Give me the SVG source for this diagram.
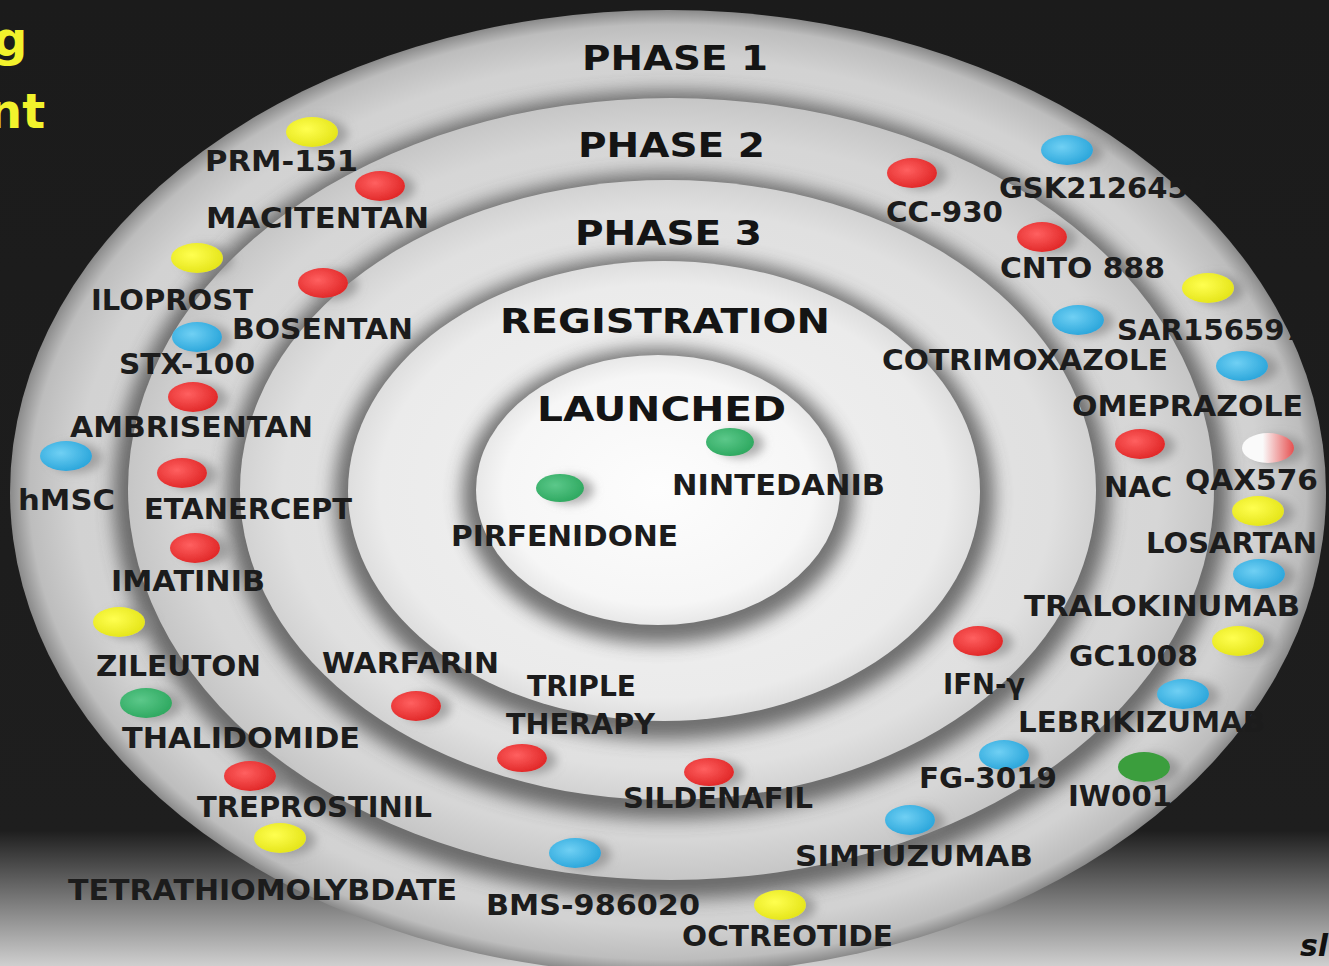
<svg xmlns="http://www.w3.org/2000/svg" width="1329" height="966" viewBox="0 0 1329 966">
<defs>
<linearGradient id="bg" x1="0" y1="0" x2="0" y2="1">
<stop offset="0" stop-color="#1b1b1b"/><stop offset="0.86" stop-color="#1e1e1e"/><stop offset="1" stop-color="#cfcfcf"/>
</linearGradient>
<radialGradient id="g1" cx="0.5" cy="0.5" r="0.5"><stop offset="0" stop-color="#dcdcdc"/><stop offset="0.9" stop-color="#d2d2d2"/><stop offset="0.97" stop-color="#bdbdbd"/><stop offset="1" stop-color="#8a8a8a"/></radialGradient>
<radialGradient id="g2" cx="0.5" cy="0.5" r="0.5"><stop offset="0" stop-color="#e0e0e0"/><stop offset="0.9" stop-color="#d6d6d6"/><stop offset="1" stop-color="#c6c6c6"/></radialGradient>
<radialGradient id="g3" cx="0.5" cy="0.5" r="0.5"><stop offset="0" stop-color="#eaeaea"/><stop offset="0.9" stop-color="#e0e0e0"/><stop offset="1" stop-color="#d2d2d2"/></radialGradient>
<radialGradient id="g4" cx="0.5" cy="0.5" r="0.5"><stop offset="0" stop-color="#f2f2f2"/><stop offset="0.9" stop-color="#ebebeb"/><stop offset="1" stop-color="#dedede"/></radialGradient>
<radialGradient id="g5" cx="0.5" cy="0.5" r="0.5"><stop offset="0" stop-color="#fdfdfd"/><stop offset="0.85" stop-color="#f6f6f6"/><stop offset="1" stop-color="#e8e8e8"/></radialGradient>
<radialGradient id="dr" cx="0.4" cy="0.4" r="0.6"><stop offset="0" stop-color="#ff6060"/><stop offset="1" stop-color="#e22a2a"/></radialGradient>
<radialGradient id="dy" cx="0.4" cy="0.4" r="0.6"><stop offset="0" stop-color="#ffff50"/><stop offset="1" stop-color="#e6e61c"/></radialGradient>
<radialGradient id="db" cx="0.4" cy="0.4" r="0.6"><stop offset="0" stop-color="#70d0f4"/><stop offset="1" stop-color="#2ea8dc"/></radialGradient>
<radialGradient id="dg" cx="0.4" cy="0.4" r="0.6"><stop offset="0" stop-color="#5cc88a"/><stop offset="1" stop-color="#30aa62"/></radialGradient>
<linearGradient id="dw" x1="0" y1="0" x2="1" y2="0"><stop offset="0.4" stop-color="#fafafa"/><stop offset="1" stop-color="#e65050"/></linearGradient>
<filter id="sh" x="-10%" y="-10%" width="120%" height="120%"><feGaussianBlur stdDeviation="9"/></filter>
<filter id="ds" x="-50%" y="-50%" width="220%" height="200%"><feDropShadow dx="10" dy="2" stdDeviation="5" flood-color="#808080" flood-opacity="0.6"/></filter>
<style>
.lbl{font-family:"DejaVu Sans","Liberation Sans",sans-serif;font-weight:bold;font-size:28px;fill:#1c1c1c}
.hdr{font-family:"DejaVu Sans","Liberation Sans",sans-serif;font-weight:bold;font-size:34px;fill:#141414}
.dot{filter:url(#ds)}
.r{fill:url(#dr)}.y{fill:url(#dy)}.b{fill:url(#db)}.g{fill:url(#dg)}
.shadow{fill:#4a4a4a;opacity:0.75;filter:url(#sh)}
</style>
</defs>
<rect width="1329" height="966" fill="url(#bg)"/>
<text x="-7" y="56" style="font-family:'DejaVu Sans',sans-serif;font-weight:bold;font-size:48px;fill:#f2f22c">g</text>
<text x="-12" y="128" style="font-family:'DejaVu Sans',sans-serif;font-weight:bold;font-size:48px;fill:#f2f22c">nt</text>
<text x="1300" y="956" style="font-family:'DejaVu Sans',sans-serif;font-weight:bold;font-style:italic;font-size:30px;fill:#111">sl</text>

<g id="rings">
<ellipse cx="668" cy="492" rx="658" ry="482" fill="url(#g1)"/>
<ellipse class="shadow" cx="671" cy="495" rx="558" ry="404"/>
<ellipse cx="671" cy="489" rx="543" ry="391" fill="url(#g2)"/>
<ellipse class="shadow" cx="668" cy="496" rx="442" ry="323"/>
<ellipse cx="668" cy="490" rx="428" ry="310" fill="url(#g3)"/>
<ellipse class="shadow" cx="664" cy="497" rx="330" ry="243"/>
<ellipse cx="664" cy="491" rx="316" ry="230" fill="url(#g4)"/>
<ellipse class="shadow" cx="658" cy="496" rx="196" ry="148"/>
<ellipse cx="658" cy="490" rx="182" ry="135" fill="url(#g5)"/>
</g>

<g id="headers">
<text class="hdr" x="582" y="70" textLength="186" lengthAdjust="spacingAndGlyphs">PHASE 1</text>
<text class="hdr" x="578" y="157" textLength="187" lengthAdjust="spacingAndGlyphs">PHASE 2</text>
<text class="hdr" x="575" y="245" textLength="187" lengthAdjust="spacingAndGlyphs">PHASE 3</text>
<text class="hdr" x="500" y="333" textLength="330" lengthAdjust="spacingAndGlyphs">REGISTRATION</text>
<text class="hdr" x="537" y="421" textLength="249" lengthAdjust="spacingAndGlyphs">LAUNCHED</text>
</g>

<g id="connectors"></g>

<g id="nintedanib"><ellipse class="dot g" cx="730" cy="442" rx="24" ry="14"/><text class="lbl" x="672" y="495" textLength="213" lengthAdjust="spacingAndGlyphs">NINTEDANIB</text></g>
<g id="pirfenidone"><ellipse class="dot g" cx="560" cy="488" rx="24" ry="14"/><text class="lbl" x="451" y="546" textLength="227" lengthAdjust="spacingAndGlyphs">PIRFENIDONE</text></g>

<g id="prm151"><ellipse class="dot y" cx="312" cy="132" rx="26" ry="15"/><text class="lbl" x="205" y="171" textLength="153" lengthAdjust="spacingAndGlyphs">PRM-151</text></g>
<g id="macitentan"><ellipse class="dot r" cx="380" cy="186" rx="25" ry="15"/><text class="lbl" x="206" y="228" textLength="223" lengthAdjust="spacingAndGlyphs">MACITENTAN</text></g>
<g id="iloprost"><ellipse class="dot y" cx="197" cy="258" rx="26" ry="15"/><text class="lbl" x="91" y="310" textLength="162" lengthAdjust="spacingAndGlyphs">ILOPROST</text></g>
<g id="bosentan"><ellipse class="dot r" cx="323" cy="283" rx="25" ry="15"/><text class="lbl" x="232" y="339" textLength="181" lengthAdjust="spacingAndGlyphs">BOSENTAN</text></g>
<g id="stx100"><ellipse class="dot b" cx="197" cy="337" rx="25" ry="15"/><text class="lbl" x="119" y="374" textLength="136" lengthAdjust="spacingAndGlyphs">STX-100</text></g>
<g id="ambrisentan"><ellipse class="dot r" cx="193" cy="397" rx="25" ry="15"/><text class="lbl" x="70" y="437" textLength="243" lengthAdjust="spacingAndGlyphs">AMBRISENTAN</text></g>
<g id="hmsc"><ellipse class="dot b" cx="66" cy="456" rx="26" ry="15"/><text class="lbl" x="18" y="510" textLength="97" lengthAdjust="spacingAndGlyphs">hMSC</text></g>
<g id="etanercept"><ellipse class="dot r" cx="182" cy="473" rx="25" ry="15"/><text class="lbl" x="144" y="519" textLength="208" lengthAdjust="spacingAndGlyphs">ETANERCEPT</text></g>
<g id="imatinib"><ellipse class="dot r" cx="195" cy="548" rx="25" ry="15"/><text class="lbl" x="111" y="591" textLength="154" lengthAdjust="spacingAndGlyphs">IMATINIB</text></g>
<g id="zileuton"><ellipse class="dot y" cx="119" cy="622" rx="26" ry="15"/><text class="lbl" x="96" y="676" textLength="165" lengthAdjust="spacingAndGlyphs">ZILEUTON</text></g>
<g id="thalidomide"><ellipse class="dot g" cx="146" cy="703" rx="26" ry="15"/><text class="lbl" x="122" y="748" textLength="238" lengthAdjust="spacingAndGlyphs">THALIDOMIDE</text></g>
<g id="treprostinil"><ellipse class="dot r" cx="250" cy="776" rx="26" ry="15"/><text class="lbl" x="197" y="817" textLength="235" lengthAdjust="spacingAndGlyphs">TREPROSTINIL</text></g>
<g id="tetrathiomolybdate"><ellipse class="dot y" cx="280" cy="838" rx="26" ry="15"/><text class="lbl" x="68" y="900" textLength="389" lengthAdjust="spacingAndGlyphs">TETRATHIOMOLYBDATE</text></g>
<g id="warfarin"><ellipse class="dot r" cx="416" cy="706" rx="25" ry="15"/><text class="lbl" x="322" y="673" textLength="177" lengthAdjust="spacingAndGlyphs">WARFARIN</text></g>
<g id="triple-therapy"><ellipse class="dot r" cx="522" cy="758" rx="25" ry="14"/><text class="lbl" x="527" y="696" textLength="109" lengthAdjust="spacingAndGlyphs">TRIPLE</text><text class="lbl" x="506" y="734" textLength="149" lengthAdjust="spacingAndGlyphs">THERAPY</text></g>
<g id="sildenafil"><ellipse class="dot r" cx="709" cy="772" rx="25" ry="14"/><text class="lbl" x="623" y="808" textLength="190" lengthAdjust="spacingAndGlyphs">SILDENAFIL</text></g>
<g id="bms986020"><ellipse class="dot b" cx="575" cy="853" rx="26" ry="15"/><text class="lbl" x="486" y="915" textLength="214" lengthAdjust="spacingAndGlyphs">BMS-986020</text></g>
<g id="octreotide"><ellipse class="dot y" cx="780" cy="905" rx="26" ry="15"/><text class="lbl" x="682" y="946" textLength="211" lengthAdjust="spacingAndGlyphs">OCTREOTIDE</text></g>
<g id="simtuzumab"><ellipse class="dot b" cx="910" cy="820" rx="25" ry="15"/><text class="lbl" x="795" y="866" textLength="238" lengthAdjust="spacingAndGlyphs">SIMTUZUMAB</text></g>
<g id="fg3019"><ellipse class="dot b" cx="1004" cy="755" rx="25" ry="15"/><text class="lbl" x="919" y="788" textLength="138" lengthAdjust="spacingAndGlyphs">FG-3019</text></g>
<g id="iw001"><ellipse class="dot" cx="1144" cy="767" rx="26" ry="15" fill="#3a9e3e"/><text class="lbl" x="1068" y="806" textLength="104" lengthAdjust="spacingAndGlyphs">IW001</text></g>
<g id="lebrikizumab"><ellipse class="dot b" cx="1183" cy="694" rx="26" ry="15"/><text class="lbl" x="1018" y="732" textLength="247" lengthAdjust="spacingAndGlyphs">LEBRIKIZUMAB</text></g>
<g id="ifn-gamma"><ellipse class="dot r" cx="978" cy="641" rx="25" ry="15"/><text class="lbl" x="943" y="694" textLength="82" lengthAdjust="spacingAndGlyphs">IFN-γ</text></g>
<g id="gc1008"><ellipse class="dot y" cx="1238" cy="641" rx="26" ry="15"/><text class="lbl" x="1069" y="666" textLength="129" lengthAdjust="spacingAndGlyphs">GC1008</text></g>
<g id="tralokinumab"><ellipse class="dot b" cx="1259" cy="574" rx="26" ry="15"/><text class="lbl" x="1024" y="616" textLength="276" lengthAdjust="spacingAndGlyphs">TRALOKINUMAB</text></g>
<g id="losartan"><ellipse class="dot y" cx="1258" cy="511" rx="26" ry="15"/><text class="lbl" x="1146" y="553" textLength="171" lengthAdjust="spacingAndGlyphs">LOSARTAN</text></g>
<g id="qax576"><ellipse class="dot" cx="1268" cy="448" rx="26" ry="15" fill="url(#dw)"/><text class="lbl" x="1185" y="490" textLength="133" lengthAdjust="spacingAndGlyphs">QAX576</text></g>
<g id="nac"><ellipse class="dot r" cx="1140" cy="444" rx="25" ry="15"/><text class="lbl" x="1104" y="497" textLength="68" lengthAdjust="spacingAndGlyphs">NAC</text></g>
<g id="omeprazole"><ellipse class="dot b" cx="1242" cy="366" rx="26" ry="15"/><text class="lbl" x="1072" y="416" textLength="231" lengthAdjust="spacingAndGlyphs">OMEPRAZOLE</text></g>
<g id="cotrimoxazole"><ellipse class="dot b" cx="1078" cy="320" rx="26" ry="15"/><text class="lbl" x="882" y="370" textLength="286" lengthAdjust="spacingAndGlyphs">COTRIMOXAZOLE</text></g>
<g id="sar156597"><ellipse class="dot y" cx="1208" cy="288" rx="26" ry="15"/><text class="lbl" x="1117" y="340" textLength="188" lengthAdjust="spacingAndGlyphs">SAR156597</text></g>
<g id="cnto888"><ellipse class="dot r" cx="1042" cy="237" rx="25" ry="15"/><text class="lbl" x="1000" y="278" textLength="165" lengthAdjust="spacingAndGlyphs">CNTO 888</text></g>
<g id="cc930"><ellipse class="dot r" cx="912" cy="173" rx="25" ry="15"/><text class="lbl" x="886" y="222" textLength="117" lengthAdjust="spacingAndGlyphs">CC-930</text></g>
<g id="gsk2126458"><ellipse class="dot b" cx="1067" cy="150" rx="26" ry="15"/><text class="lbl" x="999" y="198" textLength="209" lengthAdjust="spacingAndGlyphs">GSK2126458</text></g>
</svg>
